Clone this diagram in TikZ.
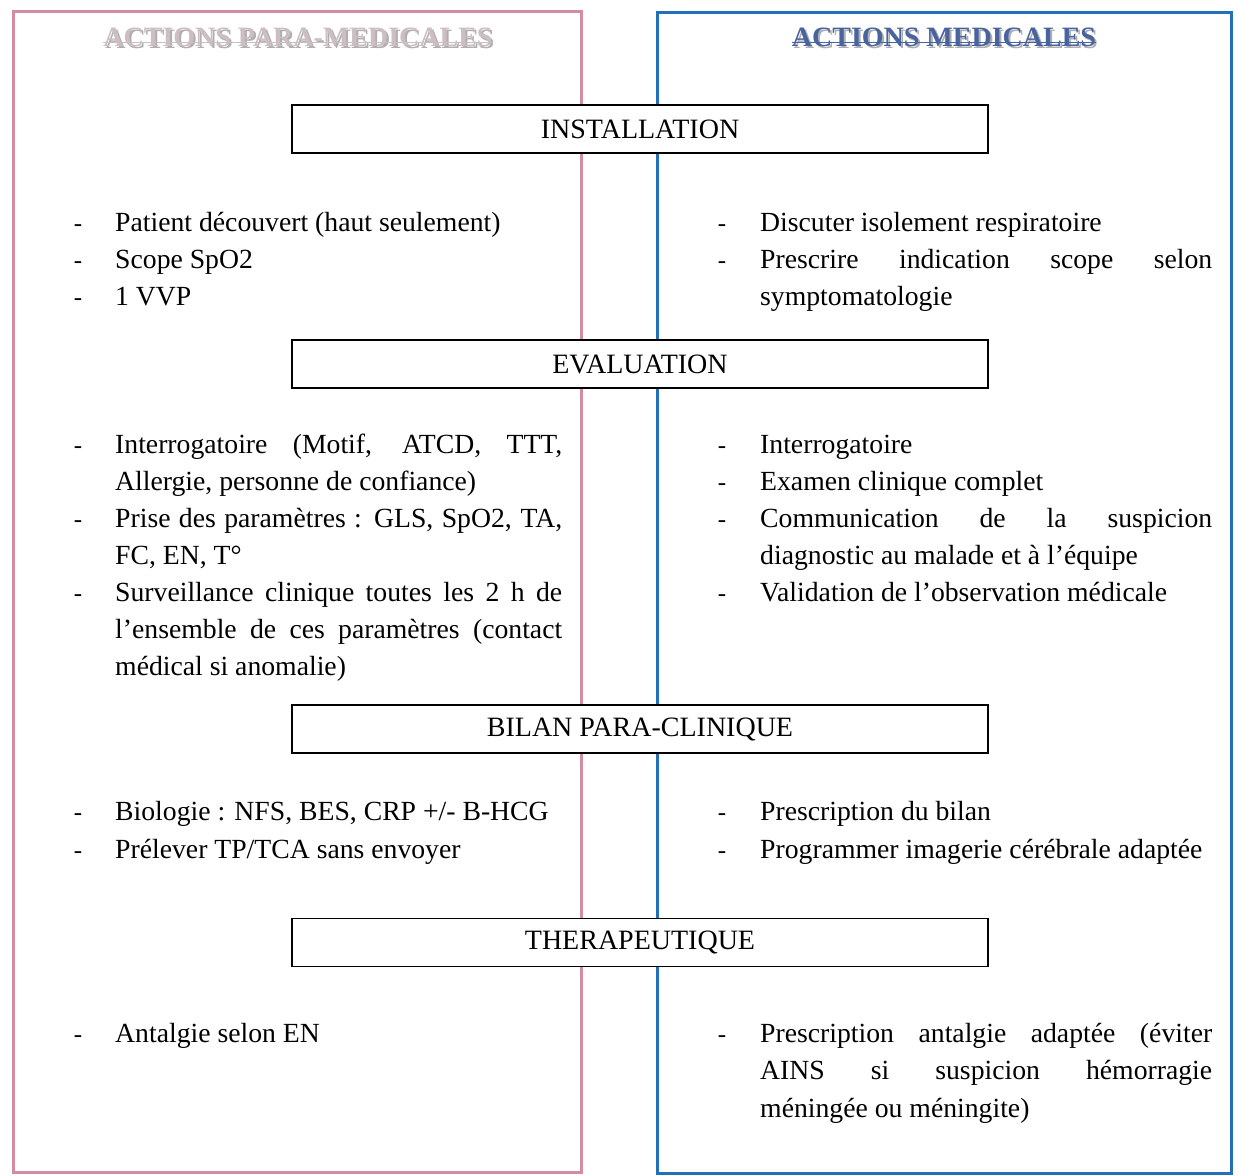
\documentclass[tikz,border=0pt]{standalone}
\usepackage{fontspec}
\setmainfont{Liberation Serif}
\definecolor{pinkframe}{RGB}{214,140,160}
\definecolor{blueframe}{RGB}{34,112,184}
\definecolor{headblue}{RGB}{72,100,160}
\definecolor{headpink}{RGB}{205,190,196}
\definecolor{shade}{RGB}{175,175,175}
\tikzset{
  body/.style={font=\fontsize{27.7}{37}\selectfont, inner sep=0pt, anchor=base west},
  dashmark/.style={font=\fontsize{25}{37}\selectfont, inner sep=0pt, anchor=base},
  stage/.style={draw=black, line width=1.4pt, fill=white, minimum width=696pt, minimum height=48pt,
                font=\fontsize{28}{32}\selectfont, inner sep=0pt},
  heading/.style={font=\fontsize{28}{32}\selectfont\bfseries, inner sep=0pt, anchor=base},
}
\newcommand{\jline}[1]{\makebox[447pt][s]{#1}}
\newcommand{\jlineR}[1]{\makebox[452pt][s]{#1}}
\begin{document}
\begin{tikzpicture}[x=1pt,y=-1pt]
\useasboundingbox (0,0) rectangle (1238,1175);
\fill[white] (0,0) rectangle (1238,1175);

% the two columns
\draw[pinkframe, line width=3pt] (13,11) rectangle (581,1172);
\draw[blueframe, line width=3pt] (657,12) rectangle (1231,1173);

% column headings (shadowed, underlined)
\node[heading, text=shade] (hLs) at (300,48) {ACTIONS PARA-MEDICALES};
\node[heading, text=headpink] (hL) at (298,46.5) {ACTIONS PARA-MEDICALES};
\draw[headpink, line width=1pt] ([yshift=4pt]hL.base west) -- ([yshift=4pt]hL.base east);
\node[heading, text=shade] (hRs) at (946,48) {ACTIONS MEDICALES};
\node[heading, text=headblue] (hR) at (944,46.5) {ACTIONS MEDICALES};
\draw[headblue, line width=1.2pt] ([yshift=4pt]hR.base west) -- ([yshift=4pt]hR.base east);

% stage banners
\node[stage] (s1) at (640,129) {INSTALLATION};
\node[stage] (s2) at (640,364) {EVALUATION};
\node[stage] (s3) at (640,729) {BILAN PARA-CLINIQUE};
\node[stage] (s4) at (640,942.5) {THERAPEUTIQUE};

% ---- INSTALLATION
\node[dashmark] (d1) at (78,231) {-};
\node[body] (a1) at (115,231) {Patient découvert (haut seulement)};
\node[dashmark] (d2) at (78,268) {-};
\node[body] (a2) at (115,268) {Scope SpO2};
\node[dashmark] (d3) at (78,305) {-};
\node[body] (a3) at (115,305) {1 VVP};

\node[dashmark] (e1) at (722,231) {-};
\node[body] (b1) at (760,231) {Discuter isolement respiratoire};
\node[dashmark] (e2) at (722,268) {-};
\node[body] (b2) at (760,268) {\jlineR{Prescrire indication scope selon}};
\node[body] (b3) at (760,305) {symptomatologie};

% ---- EVALUATION
\node[dashmark] (d4) at (78,453) {-};
\node[body] (a4) at (115,453) {\jline{Interrogatoire (Motif, ATCD, TTT,}};
\node[body] (a5) at (115,490) {Allergie, personne de confiance)};
\node[dashmark] (d5) at (78,527) {-};
\node[body] (a6) at (115,527) {\jline{Prise des paramètres : GLS, SpO2, TA,}};
\node[body] (a7) at (115,564) {FC, EN, T°};
\node[dashmark] (d6) at (78,601) {-};
\node[body] (a8) at (115,601) {\jline{Surveillance clinique toutes les 2 h de}};
\node[body] (a9) at (115,638) {\jline{l’ensemble de ces paramètres (contact}};
\node[body] (a10) at (115,675) {médical si anomalie)};

\node[dashmark] (e3) at (722,453) {-};
\node[body] (b4) at (760,453) {Interrogatoire};
\node[dashmark] (e4) at (722,490) {-};
\node[body] (b5) at (760,490) {Examen clinique complet};
\node[dashmark] (e5) at (722,527) {-};
\node[body] (b6) at (760,527) {\jlineR{Communication de la suspicion}};
\node[body] (b7) at (760,564) {diagnostic au malade et à l’équipe};
\node[dashmark] (e6) at (722,601) {-};
\node[body] (b8) at (760,601) {Validation de l’observation médicale};

% ---- BILAN PARA-CLINIQUE
\node[dashmark] (d7) at (78,820) {-};
\node[body] (a11) at (115,820) {Biologie : NFS, BES, CRP +/- B-HCG};
\node[dashmark] (d8) at (78,858) {-};
\node[body] (a12) at (115,858) {Prélever TP/TCA sans envoyer};

\node[dashmark] (e7) at (722,820) {-};
\node[body] (b9) at (760,820) {Prescription du bilan};
\node[dashmark] (e8) at (722,858) {-};
\node[body] (b10) at (760,858) {Programmer imagerie cérébrale adaptée};

% ---- THERAPEUTIQUE
\node[dashmark] (d9) at (78,1042) {-};
\node[body] (a13) at (115,1042) {Antalgie selon EN};

\node[dashmark] (e9) at (722,1042) {-};
\node[body] (b11) at (760,1042) {\jlineR{Prescription antalgie adaptée (éviter}};
\node[body] (b12) at (760,1079) {\jlineR{AINS si suspicion hémorragie}};
\node[body] (b13) at (760,1117) {méningée ou méningite)};
\end{tikzpicture}
\end{document}
